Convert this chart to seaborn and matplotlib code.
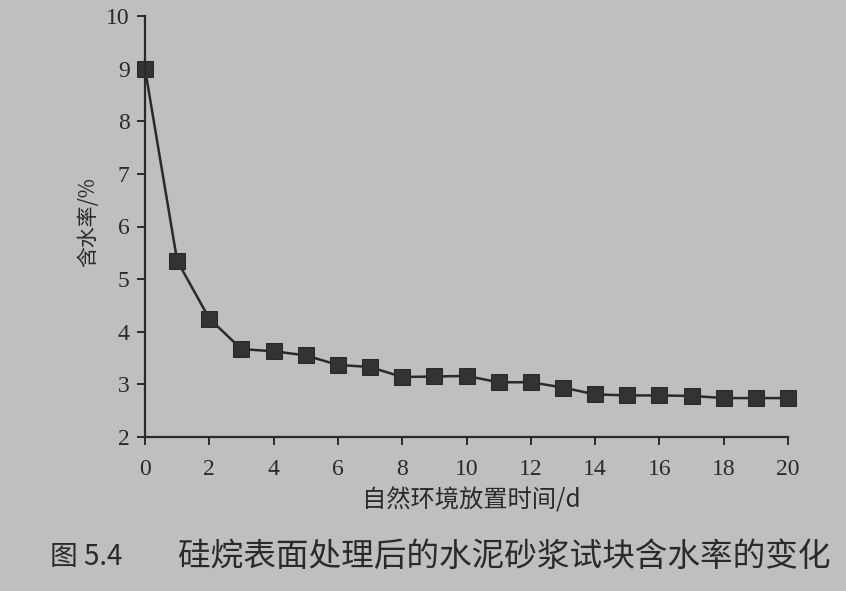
import matplotlib
matplotlib.use("Agg")
import matplotlib.pyplot as plt
import seaborn as sns
import pandas as pd

# water content of silane-treated mortar vs. days in natural environment
days = list(range(21))
water_content = [9.0, 5.35, 4.25, 3.67, 3.63, 3.55, 3.37, 3.33, 3.14, 3.15, 3.16,
                 3.04, 3.04, 2.94, 2.81, 2.79, 2.79, 2.78, 2.74, 2.74, 2.74]
x_ticks = list(range(0, 21, 2))
y_ticks = list(range(2, 11))

x_label = "自然环境放置时间/d"
y_label = "含水率/%"
fig_no = "图 5.4"
caption = "硅烷表面处理后的水泥砂浆试块含水率的变化"

df = pd.DataFrame({"day": days, "water": water_content})

bg = "#bfbfbd"
ink = "#2a2a2a"

sns.set_theme(style="ticks")
plt.rcParams["font.family"] = ["Noto Sans CJK SC", "DejaVu Sans"]
plt.rcParams["axes.edgecolor"] = ink
plt.rcParams["text.color"] = ink

fig = plt.figure(figsize=(8.46, 5.91), dpi=100, facecolor=bg)
ax = fig.add_axes([145 / 846, 1 - 437 / 591, 643 / 846, 421 / 591])
ax.set_facecolor(bg)

sns.lineplot(data=df, x="day", y="water", ax=ax, color=ink, linewidth=1.8,
             marker="s", markersize=11, markeredgecolor=ink,
             markerfacecolor="#333333", clip_on=False)

ax.set_xlim(0, 20)
ax.set_ylim(2, 10)
ax.set_xticks(x_ticks)
ax.set_yticks(y_ticks)
sns.despine(ax=ax)
for s in ("left", "bottom"):
    ax.spines[s].set_linewidth(1.6)
    ax.spines[s].set_color(ink)

ax.tick_params(axis="both", direction="out", length=6, width=1.4, colors=ink,
               labelsize=17, pad=5)
ax.tick_params(axis="x", pad=10)
for lab in ax.get_xticklabels() + ax.get_yticklabels():
    lab.set_fontfamily(["Liberation Serif", "DejaVu Serif"])
    lab.set_color(ink)

ax.set_xlabel(x_label, fontsize=17.5, color=ink)
ax.set_ylabel(y_label, fontsize=15, color=ink)
ax.xaxis.set_label_coords(0.507, -0.12)
ax.yaxis.set_label_coords(-0.072, 0.51)

fig.text(50 / 846, 1 - 557 / 591, fig_no, fontsize=20, va="center", ha="left",
         color=ink)
fig.text(178 / 846, 1 - 557 / 591, caption, fontsize=23.5, va="center",
         ha="left", color=ink)

fig.savefig("out.png", dpi=100, facecolor=bg)
